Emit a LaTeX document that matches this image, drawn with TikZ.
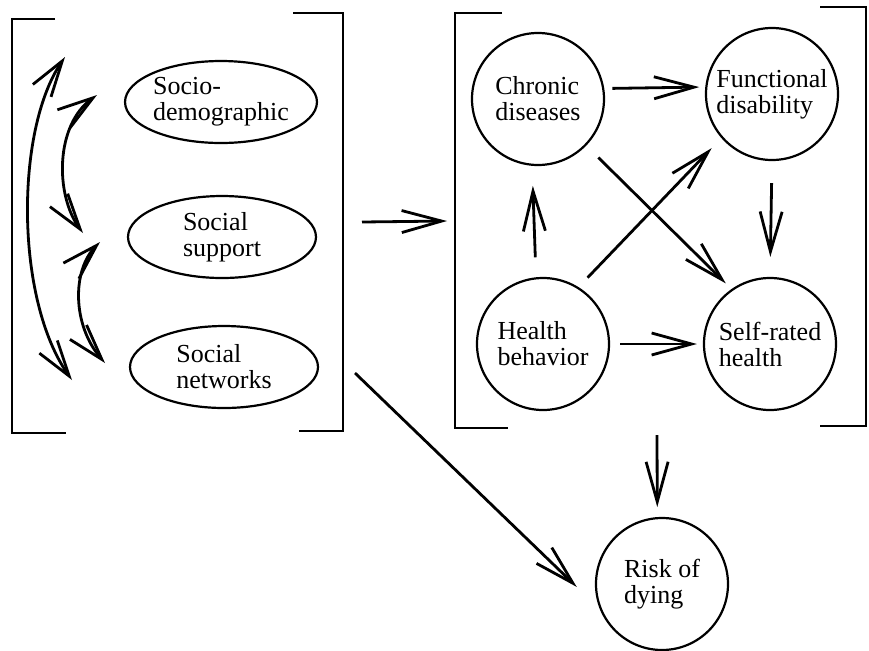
\documentclass[tikz,border=0pt]{standalone}
\usepackage{fontspec}
\setmainfont{Liberation Serif}
\usetikzlibrary{arrows.meta,shapes.geometric}

\begin{document}
\begin{tikzpicture}[
  x=0.5pt, y=-0.5pt,
  font=\fontsize{13}{13}\selectfont,
  ell/.style={draw, ellipse, line width=1.1pt, minimum width=94pt, minimum height=41pt, inner sep=0pt, align=left},
  circ/.style={draw, circle, line width=1.1pt, minimum size=66pt, inner sep=0pt, align=left},
  arrow/.style={-{Straight Barb[length=20pt,width=11pt]}, line width=1.4pt},
  dblarrow/.style={{Straight Barb[length=18pt,width=11pt]}-{Straight Barb[length=18pt,width=11pt]}, line width=1.4pt},
  bracket/.style={line width=1.3pt}
]
\useasboundingbox (0,0) rectangle (869,650);

% social factors
\node[ell] (socio) at (221,102) {Socio-\\demographic};
\node[ell] (supp) at (222,237) {Social\\support};
\node[ell] (netw) at (224,367) {Social\\networks};

\draw[bracket] (55,19) -- (12,19) -- (12,433) -- (66,433);
\draw[bracket] (293,13) -- (343,13) -- (343,431) -- (299,431);

% correlations
\coordinate (s1) at (65,57);
\coordinate (n1) at (72,380);
\coordinate (s2) at (97,95);
\coordinate (p2) at (83,233);
\coordinate (p3) at (100,242);
\coordinate (n3) at (105,363);
\draw[dblarrow] (s1) .. controls (15,130) and (15,300) .. (n1);
\draw[dblarrow] (s2) .. controls (55,125) and (55,195) .. (p2);
\draw[dblarrow] (p3) .. controls (72,270) and (72,325) .. (n3);

% health status
\node[circ] (chron) at (538,99) {Chronic\\diseases};
\node[circ] (func) at (772,94) {Functional\\disability};
\node[circ] (health) at (543,344) {Health\\behavior};
\node[circ] (self) at (770,344) {Self-rated\\health};
\node[circ] (risk) at (662,584) {Risk of\\dying};

\draw[bracket] (502,13) -- (455,13) -- (455,428) -- (508,428);
\draw[bracket] (820,7) -- (866,7) -- (866,426) -- (820,426);

\coordinate (lout) at (362,222);
\coordinate (rin) at (447,221);
\coordinate (rdown) at (657,435);
\coordinate (lnet) at (355,373);

\draw[arrow] (lout) -- (rin);
\draw[arrow, shorten <=4pt, shorten >=3pt] (chron.9) -- (func.174);
\draw[arrow, shorten <=10pt, shorten >=10pt] (health.96) -- (chron.265);
\draw[arrow, shorten <=6.5pt, shorten >=7pt] (health.58) -- (func.221);
\draw[arrow, shorten <=8.5pt, shorten >=4pt] (chron.316) -- (self.125);
\draw[arrow, shorten <=11pt, shorten >=10pt] (func.south) -- (self.north);
\draw[arrow, shorten <=5pt, shorten >=3pt] (health.east) -- (self.west);
\draw[arrow, shorten >=5pt] (rdown) -- (risk.94);
\draw[arrow, shorten >=16pt] (lnet) -- (risk.202);

\end{tikzpicture}
\end{document}
